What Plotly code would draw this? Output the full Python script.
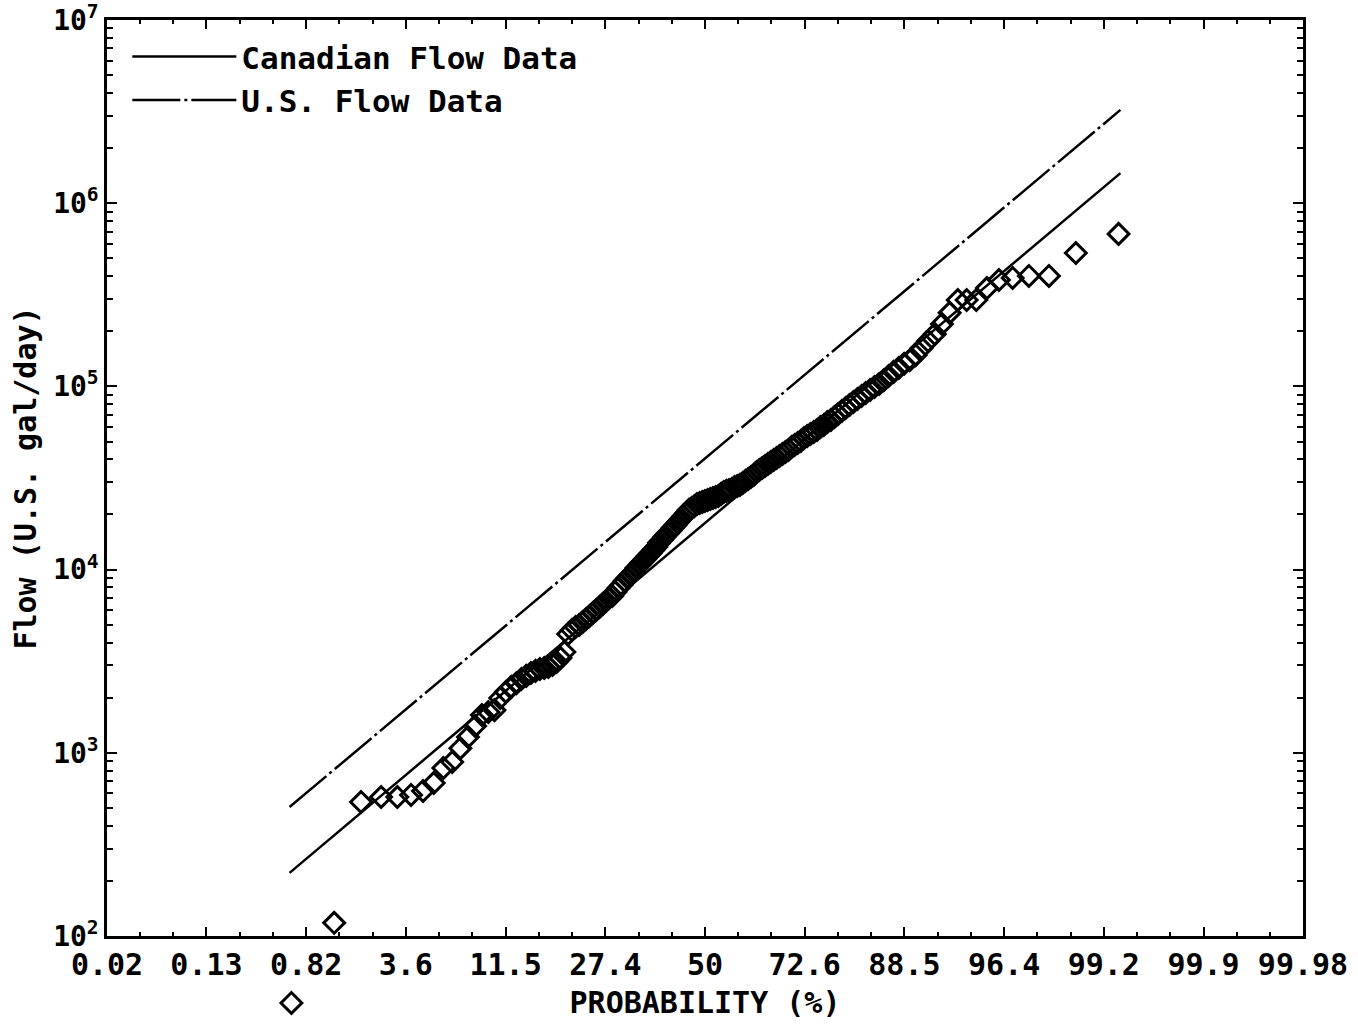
from statistics import NormalDist
import plotly.graph_objects as go

# ---------------- data ----------------
# Sorted measured flows (U.S. gal/day), plotted at Weibull positions rank/(n+1)
flows = [
    43.1, 118, 539, 574, 574, 589, 619, 684, 826, 891,
    1060, 1220, 1400, 1610, 1670, 1710, 1990, 2150, 2290, 2400,
    2530, 2630, 2730, 2800, 2870, 2900, 2940, 3020, 3130, 3290,
    3550, 4450, 4680, 4860, 4990, 5180, 5380, 5580, 5800, 6020,
    6250, 6490, 6740, 7000, 7180, 7550, 7940, 8240, 8670, 9000,
    9350, 9700, 10200, 10600, 11000, 11400, 11900, 12300, 12800, 13300,
    14000, 14500, 15100, 15700, 16200, 16900, 17500, 18200, 18900, 19600,
    20400, 21200, 21700, 22200, 22800, 23100, 23400, 23700, 24000, 24300,
    24600, 24900, 25200, 25900, 26500, 26900, 27200, 27500, 28200, 28600,
    29000, 29700, 30500, 31200, 32000, 32800, 34100, 35000, 35900, 36800,
    37700, 38700, 39700, 40700, 41700, 42800, 43900, 45000, 46700, 47900,
    49100, 50400, 52300, 53600, 55000, 56400, 57800, 60000, 61600, 63900,
    65600, 68100, 70700, 73400, 76200, 79100, 82200, 85300, 88600, 92000,
    95600, 99200, 103000, 108000, 114000, 120000, 126000, 133000, 139000, 148000,
    162000, 177000, 193000, 219000, 252000, 296000, 296000, 296000, 344000, 381000,
    391000, 401000, 401000, 535000, 680000,
]

# Fitted lognormal lines: end points (probability %, flow)
canadian_probs = [0.621, 99.379]
canadian_flows = [221, 1.46e6]
us_probs = [0.621, 99.379]
us_flows = [506, 3.23e6]

# Axis ticks
x_tick_probs = [0.016, 0.135, 0.82, 3.59, 11.51, 27.43, 50, 72.57, 88.49, 96.41, 99.18, 99.865, 99.984]
x_tick_labels = ["0.02", "0.13", "0.82", "3.6", "11.5", "27.4", "50", "72.6", "88.5", "96.4", "99.2", "99.9", "99.98"]
y_tick_vals = [1e2, 1e3, 1e4, 1e5, 1e6, 1e7]
y_tick_labels = ["10<sup>2</sup>", "10<sup>3</sup>", "10<sup>4</sup>", "10<sup>5</sup>", "10<sup>6</sup>", "10<sup>7</sup>"]

# ---------------- probability scale helper ----------------
_nd = NormalDist()


def to_z(pct):
    return _nd.inv_cdf(pct / 100.0)


n = len(flows)
flow_probs = [100.0 * (k + 1) / (n + 1) for k in range(n)]

FONT = "DejaVu Sans Mono"

# ---------------- geometry ----------------
W, H = 1358, 1029
M_L, M_R, M_T, M_B = 107, 55, 20, 14
Y_LOG_RANGE = [2, 7]
BELOW = 79  # px of plotting room kept under the framed axes (the low outlier sits there)
plot_h = H - M_T - M_B
frame_h = plot_h - BELOW
px_per_decade = frame_h / (Y_LOG_RANGE[1] - Y_LOG_RANGE[0])
main_dom_bottom = BELOW / plot_h
ext_y_range = [Y_LOG_RANGE[0] - BELOW / px_per_decade, Y_LOG_RANGE[1]]
x_range = [to_z(x_tick_probs[0]), to_z(x_tick_probs[-1])]

fig = go.Figure()
fig.add_trace(go.Scatter(
    x=[to_z(p) for p in canadian_probs], y=canadian_flows, mode="lines",
    name="Canadian Flow Data", line=dict(color="black", width=2.5),
))
fig.add_trace(go.Scatter(
    x=[to_z(p) for p in us_probs], y=us_flows, mode="lines",
    name="U.S. Flow Data", line=dict(color="black", width=2.5, dash="48px,4px,3px,4px"),
))
# measured flows on an identically scaled overlay axis pair that also covers the strip below the frame
fig.add_trace(go.Scatter(
    x=[to_z(p) for p in flow_probs], y=flows, mode="markers",
    name="Flow", showlegend=False, cliponaxis=False, xaxis="x2", yaxis="y2",
    marker=dict(symbol="diamond-open", size=16, color="black", line=dict(width=3, color="black")),
))

minor_y = [m * 10 ** k for k in range(2, 7) for m in range(2, 10)]

fig.update_layout(
    width=W, height=H,
    margin=dict(l=M_L, r=M_R, t=M_T, b=M_B, pad=0),
    paper_bgcolor="white", plot_bgcolor="rgba(0,0,0,0)",
    font=dict(family=FONT, color="black", size=30, weight="bold"),
    showlegend=True,
    legend=dict(x=0.017, y=0.99, xanchor="left", yanchor="top",
                bgcolor="rgba(0,0,0,0)",
                font=dict(family=FONT, size=31, color="black", weight="bold"),
                itemwidth=104, tracegroupgap=0),
    xaxis=dict(
        automargin=False, range=x_range, domain=[0, 1],
        tickmode="array", tickvals=[to_z(p) for p in x_tick_probs], ticktext=x_tick_labels,
        ticks="inside", ticklen=9, tickwidth=2, tickcolor="black",
        minor=dict(ticks="inside", ticklen=4, tickwidth=1.5, tickcolor="black", dtick=0.2, showgrid=False),
        showline=True, linewidth=2.5, linecolor="black", mirror="allticks",
        showgrid=False, zeroline=False, ticklabeloverflow="allow",
        tickfont=dict(family=FONT, size=30, color="black", weight="bold"),
        title=dict(text="PROBABILITY (%)", font=dict(family=FONT, size=30, color="black", weight="bold"), standoff=12),
    ),
    yaxis=dict(
        automargin=False, domain=[main_dom_bottom, 1],
        type="log", range=Y_LOG_RANGE,
        tickmode="array", tickvals=y_tick_vals, ticktext=y_tick_labels,
        ticks="inside", ticklen=10, tickwidth=2, tickcolor="black",
        minor=dict(ticks="inside", ticklen=6, tickwidth=1.5, tickcolor="black", tickvals=minor_y, showgrid=False),
        showline=True, linewidth=2.5, linecolor="black", mirror="allticks",
        showgrid=False, zeroline=False, ticklabeloverflow="allow",
        tickfont=dict(family=FONT, size=28, color="black", weight="bold"),
        title=dict(text="Flow (U.S. gal/day)", font=dict(family=FONT, size=30, color="black", weight="bold"), standoff=8),
    ),
    xaxis2=dict(visible=False, range=x_range, domain=[0, 1], anchor="y2", automargin=False),
    yaxis2=dict(visible=False, type="log", range=ext_y_range, domain=[0, 1], anchor="x2", automargin=False),
)

# remove the default 8px page margin so the figure fills the window exactly
fig.write_html("out.html", config={"displayModeBar": False},
               post_script="document.body.style.margin='0';")
